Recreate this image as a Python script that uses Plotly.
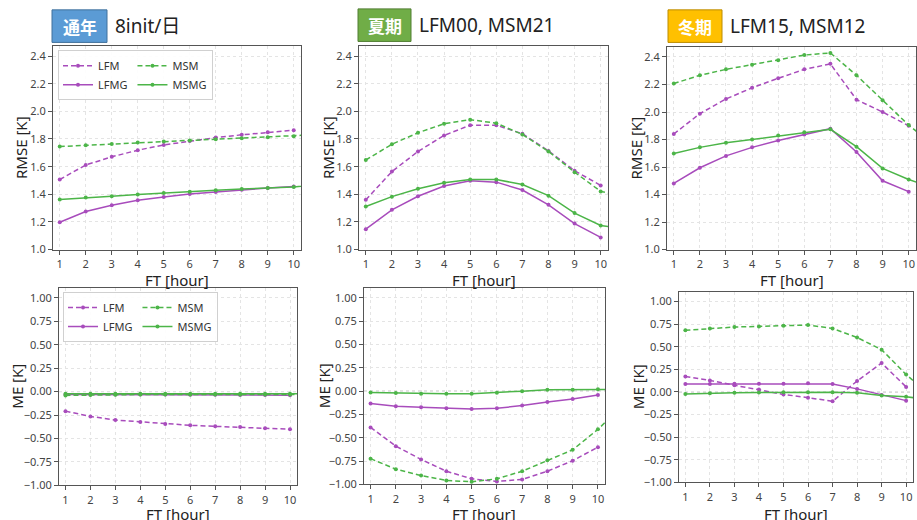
import plotly.graph_objects as go

W, H = 917, 520

FT = list(range(1, 11))
FT_MSM = list(range(1, 12))

# RMSE (top row)
rmse_year_lfm = [1.507, 1.612, 1.671, 1.719, 1.757, 1.786, 1.810, 1.830, 1.848, 1.864]
rmse_year_lfmg = [1.198, 1.276, 1.321, 1.357, 1.381, 1.402, 1.417, 1.433, 1.445, 1.457]
rmse_year_msm = [1.745, 1.755, 1.764, 1.774, 1.781, 1.790, 1.798, 1.805, 1.812, 1.819, 1.833]
rmse_year_msmg = [1.362, 1.376, 1.386, 1.398, 1.410, 1.419, 1.429, 1.438, 1.445, 1.452, 1.475]

rmse_sum_lfm = [1.360, 1.564, 1.710, 1.826, 1.900, 1.900, 1.838, 1.714, 1.571, 1.464]
rmse_sum_lfmg = [1.148, 1.288, 1.386, 1.460, 1.498, 1.488, 1.431, 1.324, 1.188, 1.088]
rmse_sum_msm = [1.648, 1.762, 1.845, 1.910, 1.940, 1.914, 1.833, 1.710, 1.560, 1.421, 1.380]
rmse_sum_msmg = [1.312, 1.383, 1.440, 1.483, 1.507, 1.507, 1.471, 1.390, 1.264, 1.174, 1.150]

rmse_win_lfm = [1.840, 1.988, 2.095, 2.176, 2.245, 2.310, 2.350, 2.090, 2.000, 1.900]
rmse_win_lfmg = [1.481, 1.595, 1.681, 1.743, 1.793, 1.836, 1.879, 1.710, 1.500, 1.421]
rmse_win_msm = [2.207, 2.267, 2.310, 2.343, 2.376, 2.414, 2.429, 2.267, 2.086, 1.905, 1.752]
rmse_win_msmg = [1.698, 1.743, 1.776, 1.800, 1.829, 1.852, 1.874, 1.748, 1.590, 1.510, 1.445]

# ME (bottom row)
me_year_lfm = [-0.208, -0.264, -0.303, -0.324, -0.345, -0.359, -0.370, -0.377, -0.391, -0.401]
me_year_lfmg = [-0.030, -0.030, -0.030, -0.030, -0.030, -0.032, -0.034, -0.035, -0.036, -0.038]
me_year_msm = [-0.040, -0.035, -0.032, -0.031, -0.030, -0.030, -0.030, -0.030, -0.030, -0.030, -0.030]
me_year_msmg = [-0.022, -0.022, -0.022, -0.022, -0.022, -0.022, -0.022, -0.022, -0.022, -0.022, -0.022]

me_sum_lfm = [-0.389, -0.590, -0.732, -0.859, -0.940, -0.968, -0.947, -0.859, -0.746, -0.601]
me_sum_lfmg = [-0.134, -0.163, -0.173, -0.184, -0.191, -0.184, -0.155, -0.117, -0.085, -0.042]
me_sum_msm = [-0.724, -0.837, -0.905, -0.958, -0.972, -0.940, -0.859, -0.742, -0.629, -0.410, -0.150]
me_sum_msmg = [-0.014, -0.021, -0.028, -0.028, -0.028, -0.018, 0.000, 0.014, 0.014, 0.021, 0.020]

me_win_lfm = [0.172, 0.128, 0.074, 0.027, -0.027, -0.063, -0.103, 0.121, 0.320, 0.056]
me_win_lfmg = [0.089, 0.089, 0.092, 0.092, 0.092, 0.096, 0.089, 0.034, -0.034, -0.096]
me_win_msm = [0.682, 0.703, 0.718, 0.725, 0.732, 0.740, 0.703, 0.602, 0.468, 0.193, -0.040]
me_win_msmg = [-0.023, -0.013, -0.009, -0.005, -0.002, -0.002, -0.002, -0.009, -0.038, -0.052, -0.090]

badges = ["通年", "夏期", "冬期"]
badge_colors = ["#5b9bd5", "#70ad47", "#ffc000"]
badge_borders = ["#41719c", "#507e32", "#bc8c00"]
subtitles = ["8init/日", "LFM00, MSM21", "LFM15, MSM12"]
x_title = "FT [hour]"
y_titles = ["RMSE [K]", "RMSE [K]", "RMSE [K]", "ME [K]", "ME [K]", "ME [K]"]

PURPLE = "#a84cbc"
GREEN = "#4cb548"
FONT = "Noto Sans, Noto Sans CJK JP"
CJK = "Noto Sans CJK JP"

# panel boxes in pixels: (left, right, top, bottom)
boxes = [
    (53, 301, 47, 253), (359, 608, 47, 253), (667, 916, 48, 253),
    (59, 297, 292, 492), (364, 605, 292, 491), (679, 913, 296, 489),
]
# axis-title anchor positions in pixels
ytitle_x = [21, 328, 636, 17, 324, 638]
xtitle_y = [284, 284, 284, 521, 521, 521]

panels = [
    (rmse_year_lfm, rmse_year_lfmg, rmse_year_msm, rmse_year_msmg),
    (rmse_sum_lfm, rmse_sum_lfmg, rmse_sum_msm, rmse_sum_msmg),
    (rmse_win_lfm, rmse_win_lfmg, rmse_win_msm, rmse_win_msmg),
    (me_year_lfm, me_year_lfmg, me_year_msm, me_year_msmg),
    (me_sum_lfm, me_sum_lfmg, me_sum_msm, me_sum_msmg),
    (me_win_lfm, me_win_lfmg, me_win_msm, me_win_msmg),
]

fig = go.Figure()
names = ["LFM", "LFMG", "MSM", "MSMG"]
colors = [PURPLE, PURPLE, GREEN, GREEN]
dashes = ["5px,3px", "solid", "5px,3px", "solid"]
groups = ["L", "L", "M", "M"]

for i, series in enumerate(panels):
    ax = "" if i == 0 else str(i + 1)
    legend_name = "legend" if i == 0 else ("legend2" if i == 3 else None)
    for j, ys in enumerate(series):
        xs = FT if len(ys) == 10 else FT_MSM
        fig.add_trace(go.Scatter(
            x=xs, y=ys, mode="lines+markers", name=names[j],
            line=dict(color=colors[j], width=1.5, dash=dashes[j]),
            marker=dict(size=4, color=colors[j]),
            xaxis="x" + ax, yaxis="y" + ax,
            legendgroup=groups[j] + str(i),
            showlegend=legend_name is not None,
            legend=legend_name if legend_name else "legend",
            cliponaxis=True,
        ))

axis_common = dict(
    showline=True, mirror=True, linecolor="#555", linewidth=1,
    ticks="outside", ticklen=4, tickcolor="#555", tickwidth=1,
    showgrid=True, gridcolor="#e4e4e4", griddash="dot", gridwidth=1,
    zeroline=False,
    tickfont=dict(family=FONT, size=11, color="#444"),
)

layout = dict(
    width=W, height=H, margin=dict(l=0, r=0, t=0, b=0),
    paper_bgcolor="white", plot_bgcolor="white",
    font=dict(family=FONT, color="#333"),
    showlegend=True,
)

for i, (l, r, t, b) in enumerate(boxes):
    ax = "" if i == 0 else str(i + 1)
    xd = [l / W, r / W]
    yd = [1 - b / H, 1 - t / H]
    xa = dict(axis_common, domain=xd, range=[0.74, 10.28], tickmode="linear",
              tick0=1, dtick=1, anchor="y" + ax)
    if i < 3:
        ya = dict(axis_common, domain=yd, range=[1.0, 2.47], tickmode="linear",
                  tick0=1.0, dtick=0.2, tickformat=".1f", anchor="x" + ax)
    else:
        ya = dict(axis_common, domain=yd, range=[-1.0, 1.105], tickmode="linear",
                  tick0=-1.0, dtick=0.25, tickformat=".2f", anchor="x" + ax)
    layout["xaxis" + ax] = xa
    layout["yaxis" + ax] = ya

legend_common = dict(
    orientation="h", traceorder="grouped", tracegroupgap=4,
    bgcolor="rgba(255,255,255,0.9)", bordercolor="#d0d0d0", borderwidth=1,
    font=dict(family=FONT, size=11, color="#333"),
    xanchor="left", yanchor="top", itemwidth=30, groupclick="toggleitem",
)
layout["legend"] = dict(legend_common, x=58 / W, y=1 - 51 / H)
layout["legend2"] = dict(legend_common, x=63 / W, y=1 - 296 / H)

fig.update_layout(**layout)

# axis titles as annotations (exact placement)
for i, (l, r, t, b) in enumerate(boxes):
    fig.add_annotation(xref="paper", yref="paper", x=(l + r) / 2 / W, y=1 - xtitle_y[i] / H,
                       text=x_title, showarrow=False, xanchor="center", yanchor="middle",
                       font=dict(family=FONT, size=15, color="#222"))
    fig.add_annotation(xref="paper", yref="paper", x=ytitle_x[i] / W, y=1 - (t + b) / 2 / H,
                       text=y_titles[i], showarrow=False, textangle=-90,
                       xanchor="center", yanchor="middle",
                       font=dict(family=FONT, size=15, color="#222"))

# zero reference lines on ME panels
for i in (3, 4, 5):
    ax = str(i + 1)
    fig.add_shape(type="line", xref="x" + ax + " domain", yref="y" + ax,
                  x0=0, x1=1, y0=0, y1=0, layer="below",
                  line=dict(color="#b0b0b0", width=1, dash="dot"))

# title badges
badge_boxes = [(52, 107, 10, 43), (358, 411, 9, 42), (668, 722, 10, 43)]
for k, (l, r, t, b) in enumerate(badge_boxes):
    fig.add_shape(type="rect", xref="paper", yref="paper",
                  x0=l / W, x1=r / W, y0=1 - b / H, y1=1 - t / H,
                  fillcolor=badge_colors[k], line=dict(color=badge_borders[k], width=1))
    fig.add_annotation(xref="paper", yref="paper", x=(l + r) / 2 / W, y=1 - (t + b) / 2 / H,
                       text="<b>" + badges[k] + "</b>", showarrow=False,
                       font=dict(family=CJK, size=17, color="white"),
                       xanchor="center", yanchor="middle")
    fig.add_annotation(xref="paper", yref="paper", x=(r + 6) / W, y=1 - (t + b) / 2 / H,
                       text=subtitles[k], showarrow=False,
                       font=dict(family=FONT, size=19, color="#222"),
                       xanchor="left", yanchor="middle")

fig.write_html("out.html")
